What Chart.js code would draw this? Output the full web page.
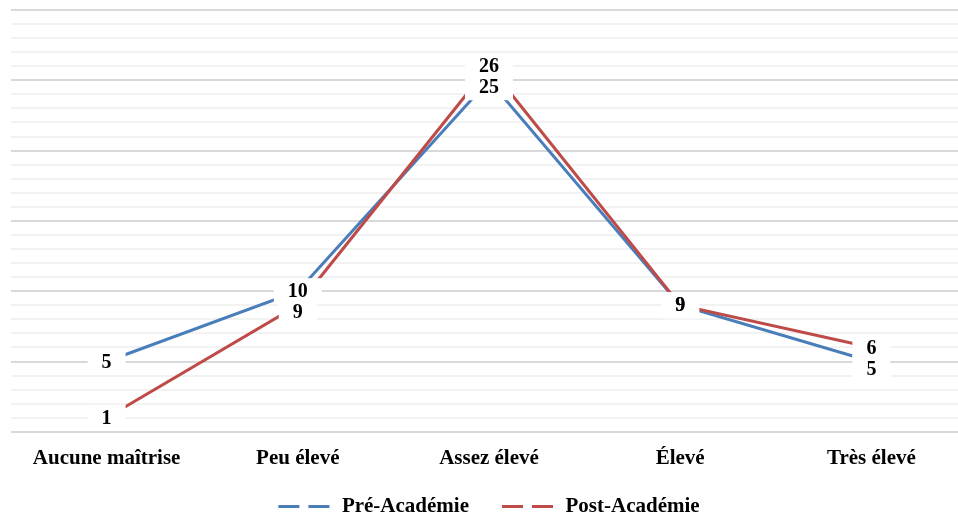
<!DOCTYPE html>
<html lang="fr">
<head>
<meta charset="utf-8">
<title>Niveau de maîtrise</title>
<script src="https://cdn.jsdelivr.net/npm/chart.js@4/dist/chart.umd.min.js"></script>
<style>
  html, body { margin: 0; padding: 0; background: #ffffff; overflow: hidden; }
  #wrap { position: absolute; left: 0; top: 0; width: 978px; height: 516px; }
</style>
</head>
<body>
<div id="wrap"><canvas id="chart"></canvas></div>
<script>
// Niveaux de maîtrise (axe des catégories)
const categories = ['Aucune maîtrise', 'Peu élevé', 'Assez élevé', 'Élevé', 'Très élevé'];
// Effectifs avant et après l'Académie
const preAcademie = [5, 10, 25, 9, 5];
const postAcademie = [1, 9, 26, 9, 6];
const seriesNames = ['Pré-Académie', 'Post-Académie'];

const BLUE = '#4A7EBB';
const RED = '#BE4B48';
const FONT = '"Liberation Serif", "DejaVu Serif", serif';
const LABEL_OVERFLOW = 22;

// Étiquettes de valeur sur fond blanc, centrées sur chaque point ;
// une étiquette qui chevaucherait la précédente est décalée vers le bas.
const valueLabels = {
  id: 'valueLabels',
  // l'axe des catégories est plus bas que ses libellés : on rend
  // à la zone de dessin des libellés la hauteur retirée dans afterFit
  afterLayout(chart) {
    chart.scales.x.bottom += LABEL_OVERFLOW;
  },
  afterDatasetsDraw(chart) {
    const ctx = chart.ctx;
    ctx.save();
    ctx.font = 'bold 20px ' + FONT;
    ctx.textAlign = 'center';
    ctx.textBaseline = 'middle';
    const minGap = 21;
    for (let i = 0; i < categories.length; i++) {
      const items = [];
      chart.data.datasets.forEach((ds, d) => {
        const el = chart.getDatasetMeta(d).data[i];
        items.push({ v: ds.data[i], x: el.x, y: el.y });
      });
      items.sort((a, b) => b.v - a.v);
      let prev = null;
      items.forEach(it => {
        let cy = it.y;
        if (prev) {
          if (prev.v === it.v) cy = prev.cy;
          else cy = Math.max(cy, prev.cy + minGap);
        }
        it.cy = cy;
        prev = it;
      });
      // fonds blancs d'abord, puis les textes
      items.forEach(it => {
        const w = ctx.measureText(String(it.v)).width + 28;
        ctx.fillStyle = '#ffffff';
        ctx.fillRect(it.x - w / 2, it.cy - 13, w, 26);
      });
      items.forEach(it => {
        ctx.fillStyle = '#000000';
        ctx.fillText(String(it.v), it.x, it.cy + 1);
      });
    }
    ctx.restore();
  }
};

new Chart(document.getElementById('chart'), {
  type: 'line',
  data: {
    labels: categories,
    datasets: [
      { label: seriesNames[0], data: preAcademie, borderColor: BLUE, backgroundColor: BLUE,
        borderWidth: 3, pointRadius: 0, tension: 0, order: 1 },
      { label: seriesNames[1], data: postAcademie, borderColor: RED, backgroundColor: RED,
        borderWidth: 3, pointRadius: 0, tension: 0, order: 0 }
    ]
  },
  options: {
    responsive: true,
    maintainAspectRatio: false,
    animation: false,
    layout: { padding: { left: 11, right: 11, top: 10, bottom: -11 } },
    scales: {
      x: {
        offset: true,
        grid: { display: false, drawTicks: false },
        border: { display: false },
        ticks: { color: '#000000', font: { family: FONT, size: 21, weight: 'bold' }, padding: 14, maxRotation: 0 },
        afterFit: scale => { scale.height = Math.max(0, scale.height - LABEL_OVERFLOW); }
      },
      y: {
        min: 0,
        max: 30,
        ticks: { display: false, stepSize: 1 },
        border: { display: false },
        grid: {
          drawTicks: false,
          lineWidth: 2,
          color: c => (c.tick && c.tick.value % 5 === 0) ? '#D9D9D9' : '#F2F2F2'
        }
      }
    },
    plugins: {
      tooltip: { enabled: false },
      legend: {
        position: 'bottom',
        labels: {
          color: '#000000',
          font: { family: FONT, size: 21, weight: 'bold' },
          usePointStyle: true,
          pointStyleWidth: 53,
          boxHeight: 16,
          padding: 33,
          generateLabels: chart => chart.data.datasets.map((ds, i) => ({
            text: ds.label,
            fillStyle: ds.borderColor,
            strokeStyle: ds.borderColor,
            lineWidth: 3,
            lineDash: [21, 9],
            lineCap: 'butt',
            pointStyle: 'line',
            fontColor: '#000000',
            datasetIndex: i,
            hidden: false
          }))
        }
      }
    }
  },
  plugins: [valueLabels]
});
</script>
</body>
</html>
